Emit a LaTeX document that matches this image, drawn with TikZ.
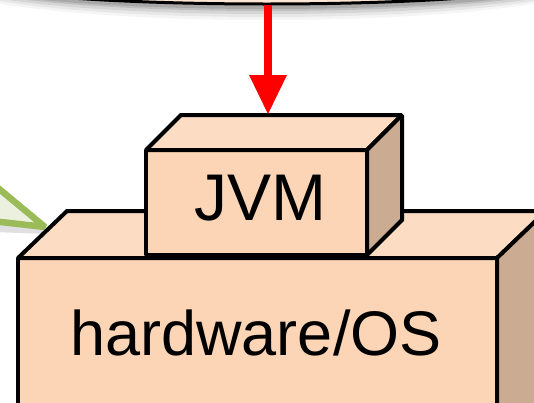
\documentclass[tikz,border=0pt]{standalone}
\usepackage{fontspec}
\setmainfont{Liberation Sans}
\definecolor{frontc}{HTML}{FBD5B5}
\definecolor{topc}{HTML}{FCDCC3}
\definecolor{sidec}{HTML}{CBAB92}
\definecolor{gline}{HTML}{9BBB59}
\definecolor{gfill}{HTML}{EBF1DE}
\tikzset{
  face/.style={draw=black, line width=4pt, line join=miter, miter limit=1.4},
  boxlabel/.style={font=\fontsize{63}{63}\selectfont, anchor=base, inner sep=0pt},
}
\begin{document}
\begin{tikzpicture}[x=1pt,y=-1pt]
\useasboundingbox (0,0) rectangle (534,402);
\clip (0,0) rectangle (534,402);
% top shape with soft shadow
\foreach \i/\o in {14/0.04,11/0.06,8/0.08,5/0.1,3/0.12}{
  \fill[black,opacity=\o] (267,-19) ellipse [x radius={300+2*\i}, y radius={25+\i}];
}
\draw[line width=3pt, fill=frontc!60!white] (267,-21) ellipse [x radius=300, y radius=25];
% green arrow (head only visible)
\fill[black,opacity=0.12] (-8,196) -- (49,234) -- (-8,232) -- cycle;
\draw[draw=gline, fill=gfill, line width=6.5pt, line join=miter, miter limit=3] (-8,183) -- (45,227) -- (-8,221) -- cycle;
% hardware box
\draw[face, fill=frontc] (18,258) rectangle (497,430);
\draw[face, fill=topc] (18,258) -- (67,211) -- (546,211) -- (497,258) -- cycle;
\draw[face, fill=sidec] (497,258) -- (546,211) -- (546,430) -- (497,430) -- cycle;
\node[boxlabel] (hw) at (256,355) {hardware/OS};
% JVM box
\draw[face, fill=frontc] (146,150) rectangle (367,255);
\draw[face, fill=topc] (146,150) -- (181,115) -- (402,115) -- (367,150) -- cycle;
\draw[face, fill=sidec] (367,150) -- (402,115) -- (402,220) -- (367,255) -- cycle;
\node[boxlabel, font=\fontsize{66}{66}\selectfont] (jvm) at (260,220) {JVM};
% red arrow
\coordinate (src) at (268,5);
\coordinate (dst) at (268,114);
\fill[red] (264,5) rectangle (272,76);
\fill[red] (249,75) -- (287,75) -- (dst) -- cycle;
\end{tikzpicture}
\end{document}
